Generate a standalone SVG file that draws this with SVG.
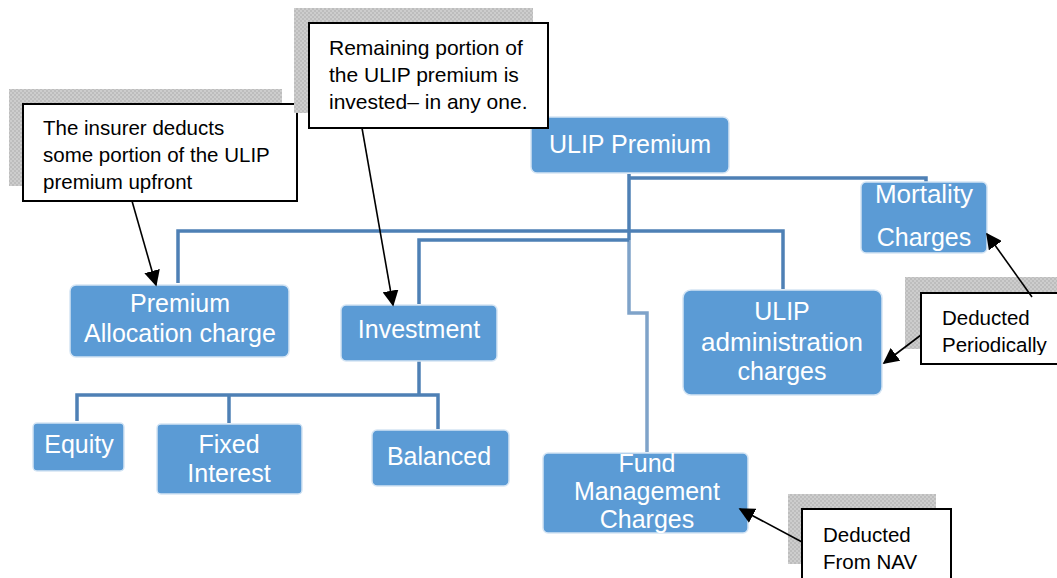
<svg xmlns="http://www.w3.org/2000/svg" width="1057" height="578" viewBox="0 0 1057 578">
<defs>
<pattern id="chk" width="4" height="4" patternUnits="userSpaceOnUse">
<rect width="4" height="4" fill="#cdcdcd"/>
<rect width="2" height="2" fill="#bdbdbd"/>
<rect x="2" y="2" width="2" height="2" fill="#bdbdbd"/>
</pattern>
<marker id="ahb" viewBox="0 0 10 10" refX="9" refY="5" markerWidth="16" markerHeight="16" markerUnits="userSpaceOnUse" orient="auto">
<path d="M0,0 L10,5 L0,10 z" fill="#000"/>
</marker>
<clipPath id="c1"><rect x="23" y="104" width="274" height="89"/></clipPath>
<clipPath id="c3"><rect x="921" y="293" width="136" height="62"/></clipPath>
<clipPath id="c4"><rect x="802" y="509" width="149" height="63"/></clipPath>
<clipPath id="cf"><rect x="543" y="453" width="205" height="80"/></clipPath>
</defs>
<style>
.node{fill:#5b9bd5;stroke:#d5e5f4;stroke-width:1.5}
.nt{font-family:"Liberation Sans",Arial,sans-serif;font-size:25px;fill:#ffffff;text-anchor:middle}
.shadow{fill:url(#chk)}
.cbox{fill:#ffffff;stroke:#000000;stroke-width:2}
.ct{font-family:"Liberation Sans",Arial,sans-serif;font-size:20.5px;fill:#000000}
.conn{fill:none;stroke:#4e80b5;stroke-width:3.5}
.conn2{fill:none;stroke:#7fa3c9;stroke-width:3.5}
.arr{fill:none;stroke:#000000;stroke-width:1.6;marker-end:url(#ahb)}
</style>
<rect width="1057" height="578" fill="#ffffff"/>

<g id="connectors">
<path class="conn" d="M629,174 V240"/>
<path class="conn2" d="M629,240 V313 H647 V452"/>
<path class="conn" d="M629,178 H926 V183"/>
<path class="conn" d="M178,283 V231 H783 V289"/>
<path class="conn" d="M419,304 V240 H629"/>
<path class="conn" d="M419,361 V395"/>
<path class="conn" d="M77,421 V395 H438 V429"/>
<path class="conn" d="M229,395 V423"/>
</g>

<g id="node-ulip-premium">
<rect class="node" x="531" y="117" width="198" height="56" rx="6"/>
<text class="nt" x="630" y="153">ULIP Premium</text>
</g>
<g id="node-mortality">
<rect class="node" x="861" y="182" width="126" height="71" rx="5"/>
<text class="nt" x="924" y="203" style="font-size:26px">Mortality</text>
<text class="nt" x="924" y="246">Charges</text>
</g>
<g id="node-premium-allocation">
<rect class="node" x="70" y="285" width="219" height="72" rx="6"/>
<text class="nt" x="180" y="312">Premium</text>
<text class="nt" x="180" y="342">Allocation charge</text>
</g>
<g id="node-investment">
<rect class="node" x="341" y="305" width="156" height="56" rx="5"/>
<text class="nt" x="419" y="338">Investment</text>
</g>
<g id="node-ulip-admin">
<rect class="node" x="683" y="290" width="199" height="105" rx="8"/>
<text class="nt" x="782" y="320">ULIP</text>
<text class="nt" x="782" y="351" style="font-size:26px">administration</text>
<text class="nt" x="782" y="380">charges</text>
</g>
<g id="node-equity">
<rect class="node" x="33" y="423" width="91" height="48" rx="4"/>
<text class="nt" x="79" y="453">Equity</text>
</g>
<g id="node-fixed-interest">
<rect class="node" x="157" y="424" width="145" height="70" rx="4"/>
<text class="nt" x="229" y="453">Fixed</text>
<text class="nt" x="229" y="482">Interest</text>
</g>
<g id="node-balanced">
<rect class="node" x="372" y="430" width="137" height="56" rx="5"/>
<text class="nt" x="439" y="465">Balanced</text>
</g>
<g id="node-fund-management">
<rect class="node" x="543" y="453" width="205" height="80" rx="5"/>
<g clip-path="url(#cf)">
<text class="nt" x="647" y="472">Fund</text>
<text class="nt" x="647" y="500">Management</text>
<text class="nt" x="647" y="528">Charges</text>
</g>
</g>

<g id="callout-upfront">
<rect class="shadow" x="9" y="89" width="273" height="97"/>
<rect class="cbox" x="23" y="104" width="274" height="97"/>
<g clip-path="url(#c1)">
<text class="ct" x="43" y="135">The insurer deducts</text>
<text class="ct" x="43" y="162">some portion of the ULIP</text>
<text class="ct" x="43" y="189">premium upfront</text>
</g>
</g>
<g id="callout-invested">
<rect class="shadow" x="294" y="8" width="239" height="105"/>
<rect class="cbox" x="309" y="23" width="239" height="105"/>
<text class="ct" x="329" y="55" style="font-size:21px">Remaining portion of</text>
<text class="ct" x="329" y="82" style="font-size:21px">the ULIP premium is</text>
<text class="ct" x="329" y="109" style="font-size:21px">invested– in any one.</text>
</g>
<g id="callout-periodically">
<rect class="shadow" x="905" y="277" width="152" height="72"/>
<rect class="cbox" x="921" y="293" width="140" height="71"/>
<g clip-path="url(#c3)">
<text class="ct" x="942" y="325">Deducted</text>
<text class="ct" x="942" y="352">Periodically</text>
</g>
</g>
<g id="callout-nav">
<rect class="shadow" x="788" y="494" width="148" height="70"/>
<rect class="cbox" x="802" y="509" width="149" height="75"/>
<g clip-path="url(#c4)">
<text class="ct" x="823" y="542">Deducted</text>
<text class="ct" x="823" y="569">From NAV</text>
</g>
</g>

<g id="arrows">
<line class="arr" x1="132" y1="201" x2="156" y2="285"/>
<line class="arr" x1="362" y1="128" x2="393" y2="305"/>
<line class="arr" x1="1032" y1="297" x2="987" y2="234"/>
<line class="arr" x1="921" y1="335" x2="884" y2="363"/>
<line class="arr" x1="802" y1="542" x2="740" y2="509"/>
</g>
</svg>
